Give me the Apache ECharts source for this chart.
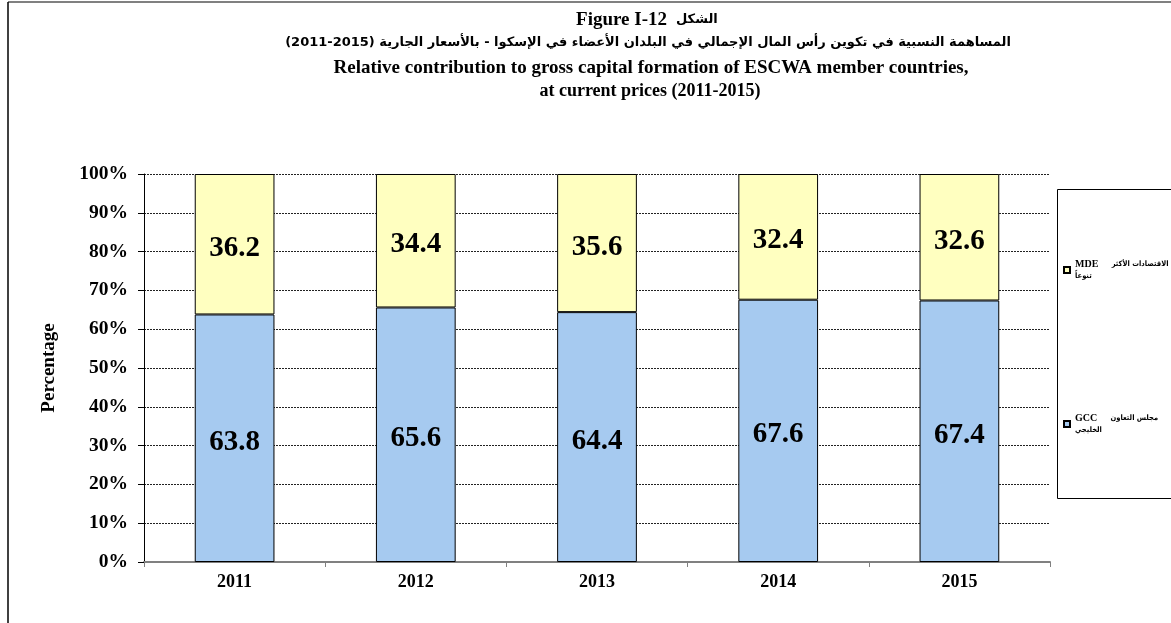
<!DOCTYPE html>
<html>
<head>
<meta charset="utf-8">
<script src="https://cdn.jsdelivr.net/npm/echarts@6/dist/echarts.min.js"></script>
<style>
  html, body { margin: 0; padding: 0; background: #fff; }
  #main { width: 1171px; height: 623px; }
</style>
</head>
<body>
<div id="main"></div>
<script>
// data
var years = ['2011', '2012', '2013', '2014', '2015'];
var gcc = [63.8, 65.6, 64.4, 67.6, 67.4];
var mde = [36.2, 34.4, 35.6, 32.4, 32.6];
var yTicks = [0, 10, 20, 30, 40, 50, 60, 70, 80, 90, 100];

var gccName = 'GCC';
var mdeName = 'MDE';
var legendArabic = {
    'GCC': ['مجلس التعاون', 'الخليجي'],
    'MDE': ['الاقتصادات الأكثر', 'تنوعاً']
};

var chartDom = document.getElementById('main');
var myChart = echarts.init(chartDom);
var option;

var barLabel = {
    show: true,
    position: 'inside',
    offset: [0, 4],
    fontFamily: 'Liberation Serif',
    fontWeight: 'bold',
    fontSize: 29,
    color: '#000',
    formatter: function (p) { return p.value.toFixed(1); }
};

function legendOpt(name, top) {
    return {
        data: [name],
        left: 1063,
        top: top,
        padding: 0,
        itemWidth: 6,
        itemHeight: 6,
        itemGap: 0,
        icon: 'rect',
        selectedMode: false,
        formatter: function (n) {
            return '{en|' + n + '}    {ar|' + legendArabic[n][0] + '}\n{ar|' + legendArabic[n][1] + '}';
        },
        textStyle: {
            rich: {
                en: { fontFamily: 'Liberation Serif', fontWeight: 'bold', fontSize: 10, color: '#000', lineHeight: 12 },
                ar: { fontFamily: 'DejaVu Sans Condensed', fontWeight: 'bold', fontSize: 7.5, color: '#000', lineHeight: 12 }
            }
        }
    };
}

var serifBold = function (size) {
    return { fontFamily: 'Liberation Serif', fontWeight: 'bold', fontSize: size, fill: '#000' };
};

option = {
    animation: false,
    backgroundColor: '#fff',
    grid: {
        left: 144,
        right: 121,
        top: 174,
        bottom: 61
    },
    legend: [
        legendOpt(mdeName, 258),
        legendOpt(gccName, 412)
    ],
    graphic: [
        {
            type: 'line',
            shape: { x1: 8, y1: 2, x2: 1171, y2: 2 },
            style: { stroke: '#808080', lineWidth: 2 }
        },
        {
            type: 'line',
            shape: { x1: 8, y1: 2, x2: 8, y2: 623 },
            style: { stroke: '#000', lineWidth: 1.5 }
        },
        {
            type: 'rect',
            shape: { x: 1057.5, y: 189.5, width: 130, height: 309 },
            style: { fill: 'none', stroke: '#000', lineWidth: 1 }
        },
        {
            type: 'text', x: 667, y: 20,
            style: Object.assign(serifBold(19), { text: 'Figure I-12', align: 'right', verticalAlign: 'middle' })
        },
        {
            type: 'text', x: 676, y: 20,
            style: { text: 'الشكل', fontFamily: 'DejaVu Sans', fontWeight: 'bold', fontSize: 13, fill: '#000', align: 'left', verticalAlign: 'middle' }
        },
        {
            type: 'text', x: 648, y: 43,
            style: { text: 'المساهمة النسبية في تكوين رأس المال الإجمالي في البلدان الأعضاء في الإسكوا - بالأسعار الجارية (2015-2011)', fontFamily: 'DejaVu Sans', fontWeight: 'bold', fontSize: 13, fill: '#000', align: 'center', verticalAlign: 'middle' }
        },
        {
            type: 'text', x: 651, y: 68,
            style: Object.assign(serifBold(19), { text: 'Relative contribution to gross capital formation of ESCWA member countries,', align: 'center', verticalAlign: 'middle' })
        },
        {
            type: 'text', x: 650, y: 91,
            style: Object.assign(serifBold(18), { text: 'at current prices (2011-2015)', align: 'center', verticalAlign: 'middle' })
        }
    ],
    xAxis: {
        type: 'category',
        data: years,
        axisLine: { lineStyle: { color: '#808080', width: 2 } },
        axisTick: { show: true, length: 5, lineStyle: { color: '#808080' } },
        axisLabel: {
            fontFamily: 'Liberation Serif',
            fontWeight: 'bold',
            fontSize: 18,
            color: '#000',
            margin: 11
        }
    },
    yAxis: {
        type: 'value',
        min: yTicks[0],
        max: yTicks[yTicks.length - 1],
        interval: 10,
        name: 'Percentage',
        nameLocation: 'middle',
        nameGap: 85,
        nameTextStyle: { fontFamily: 'Liberation Serif', fontWeight: 'bold', fontSize: 19, color: '#000' },
        axisLine: { show: true, lineStyle: { color: '#000', width: 1 } },
        axisTick: { show: true, length: 6, lineStyle: { color: '#000' } },
        axisLabel: {
            fontFamily: 'Liberation Serif',
            fontWeight: 'bold',
            fontSize: 19.5,
            color: '#000',
            margin: 16,
            formatter: '{value}%'
        },
        splitLine: { show: true, lineStyle: { color: '#222', type: [2, 1], width: 1 } }
    },
    series: [
        {
            name: gccName,
            type: 'bar',
            stack: 'total',
            data: gcc,
            barWidth: '44%',
            itemStyle: { color: '#A6CAF0', borderColor: '#000', borderWidth: 1 },
            label: barLabel
        },
        {
            name: mdeName,
            type: 'bar',
            stack: 'total',
            data: mde,
            barWidth: '44%',
            itemStyle: { color: '#FFFFC0', borderColor: '#000', borderWidth: 1 },
            label: barLabel
        }
    ]
};

option && myChart.setOption(option);
</script>
</body>
</html>
